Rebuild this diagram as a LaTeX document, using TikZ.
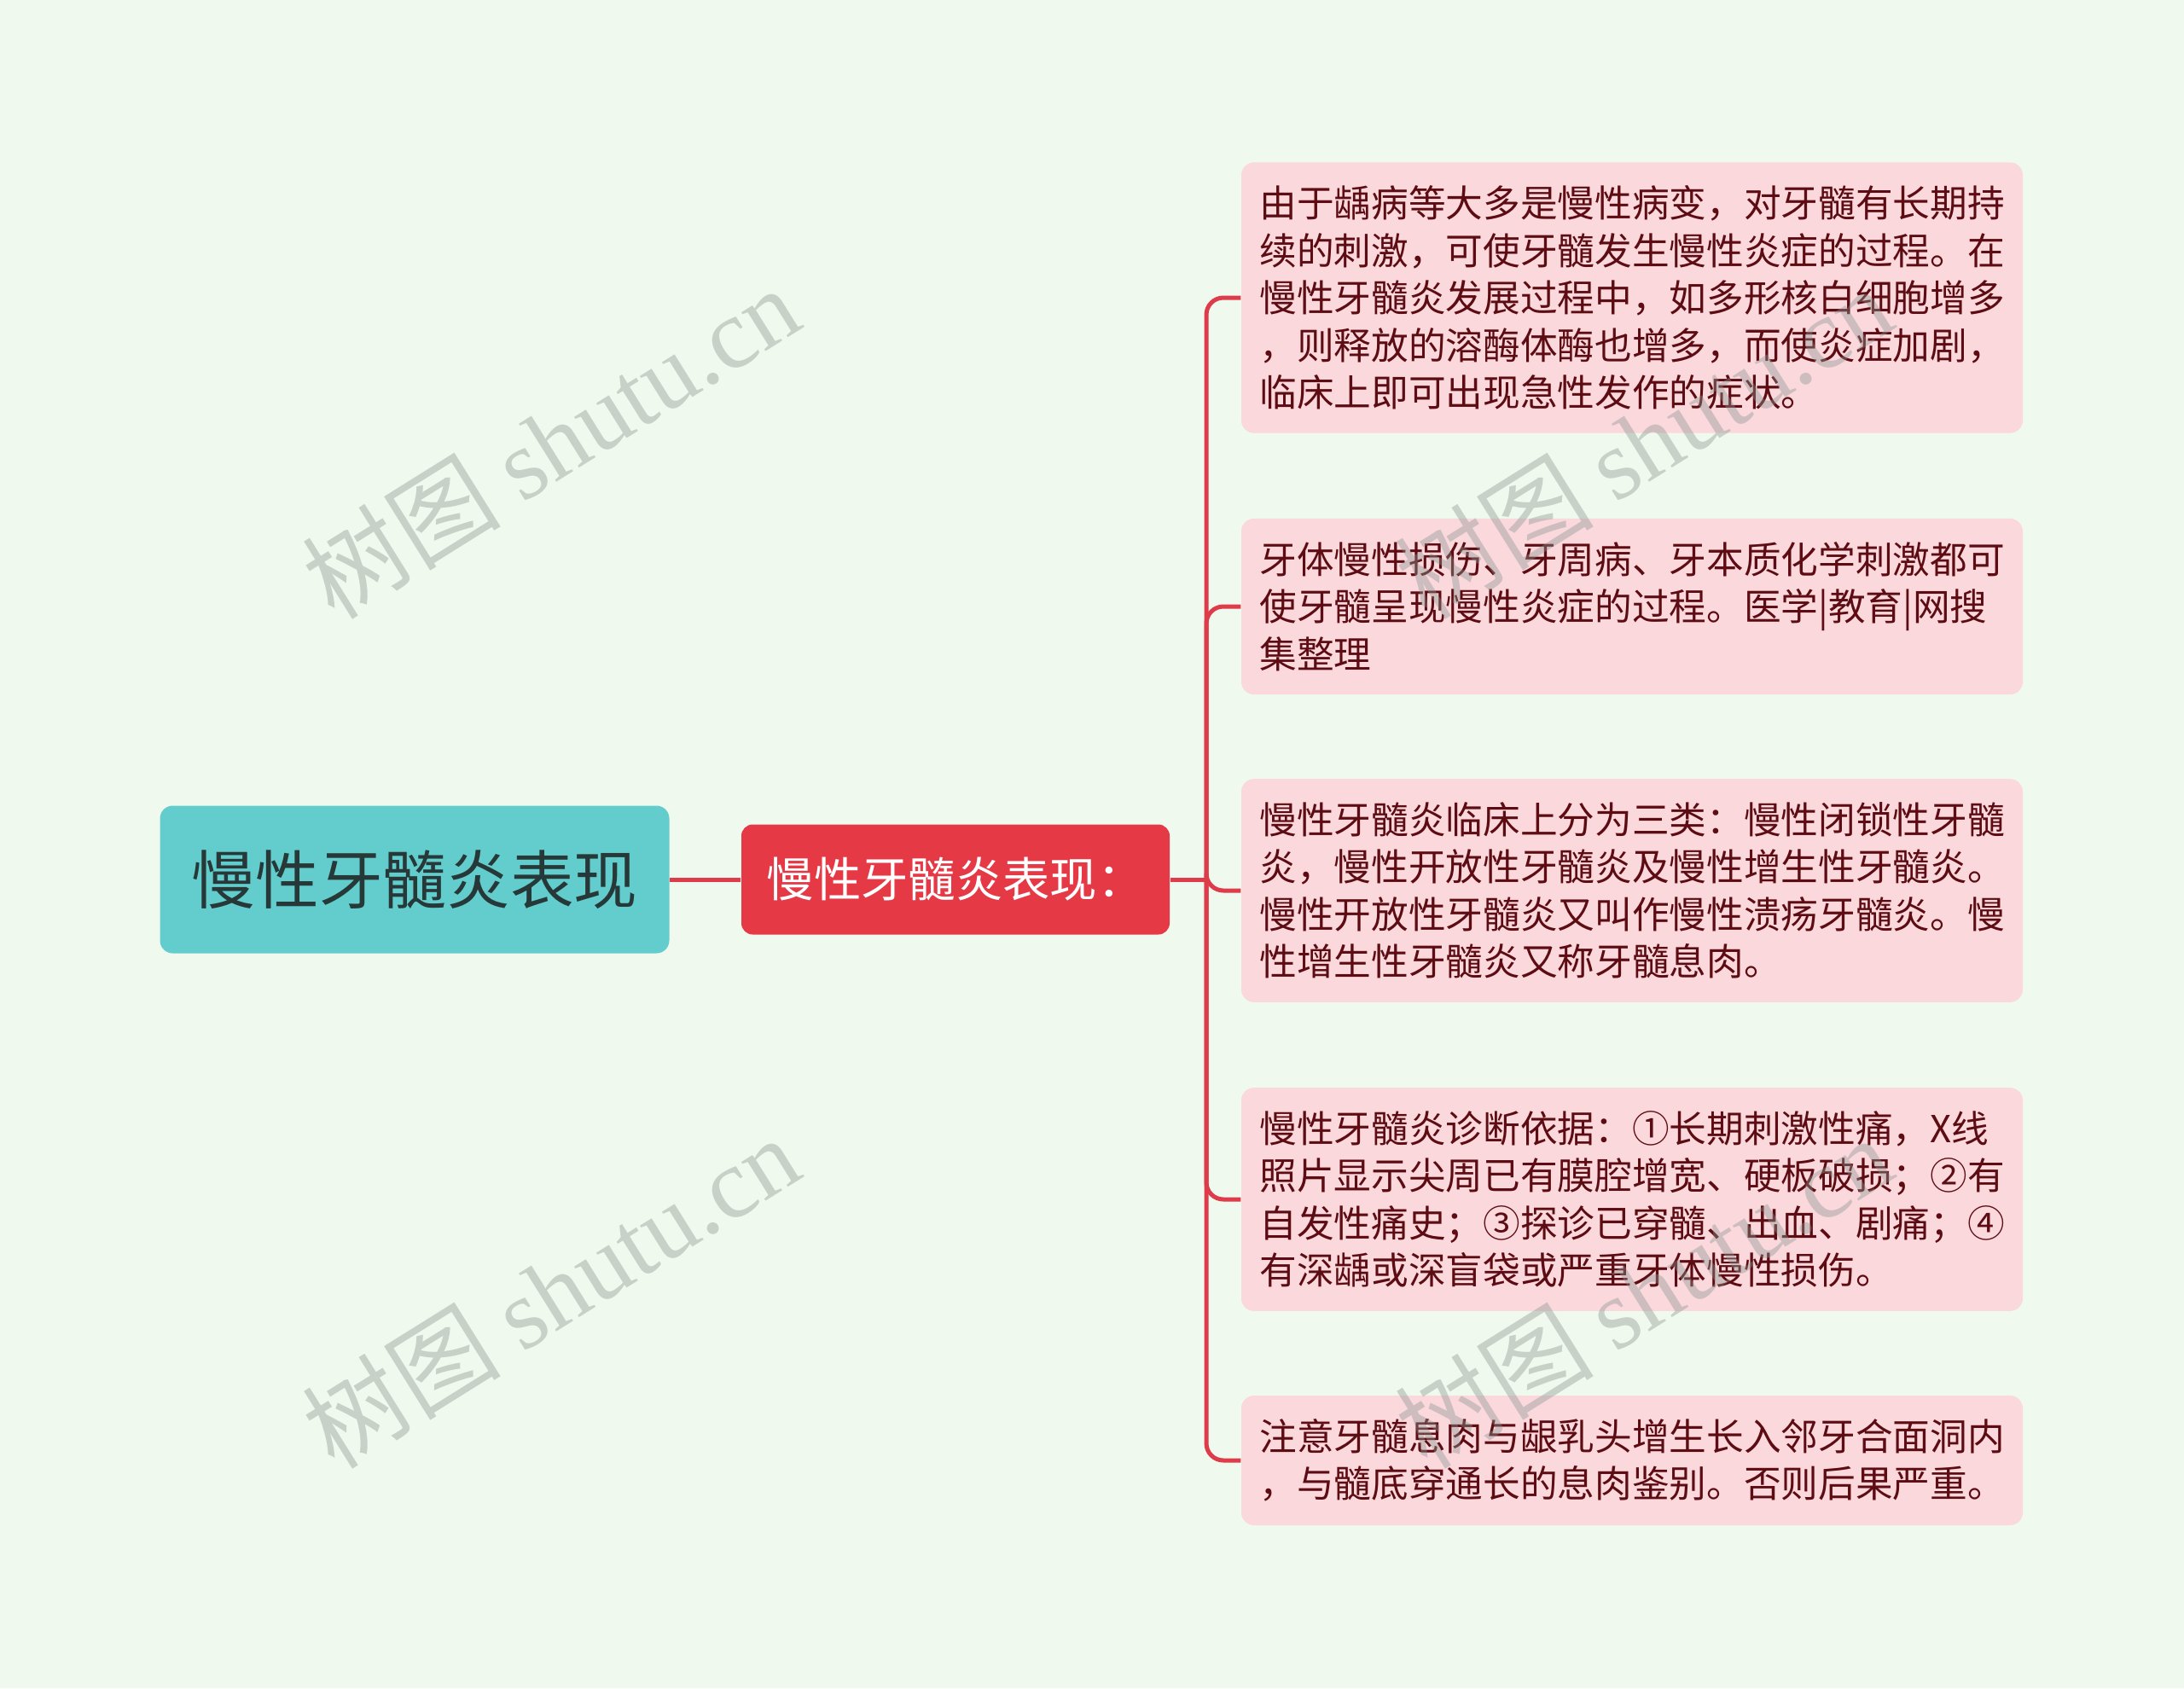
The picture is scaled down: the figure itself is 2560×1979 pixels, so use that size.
\documentclass[tikz,border=0pt]{standalone}
\usepackage{fontspec}
\setmainfont{Noto Sans CJK SC}
\newfontfamily\wmfont{Liberation Serif}
\definecolor{bgcol}{RGB}{240,249,238}
\definecolor{rootcol}{RGB}{99,205,205}
\definecolor{roottext}{RGB}{38,56,56}
\definecolor{maincol}{RGB}{229,57,70}
\definecolor{linecol}{RGB}{222,60,74}
\definecolor{leafcol}{RGB}{250,216,220}
\definecolor{leaftext}{RGB}{92,12,18}
\definecolor{wmcol}{RGB}{140,150,145}
\tikzset{
  leaf/.style={fill=leafcol, text=leaftext, rounded corners=4.5pt, align=left,
    text width=262pt, inner xsep=6.4pt, inner ysep=8.2pt,
    font=\fontsize{13.1pt}{16.65pt}\selectfont},
  wm/.style={text=wmcol, opacity=0.4, rotate=32, font=\fontsize{35pt}{35pt}\selectfont}
}
\begin{document}
\begin{tikzpicture}[x=0.3pt, y=-0.3pt]
  \fill[bgcol] (0,0) rectangle (2560,1979);
  \useasboundingbox (0,0) rectangle (2560,1979);

  \node[fill=rootcol, text=roottext, rounded corners=4.5pt, minimum width=179.1pt,
    minimum height=51.9pt, font=\fontsize{22.4pt}{26pt}\selectfont] (root) at (486,1031) {慢性牙髓炎表现};
  \node[fill=maincol, text=white, rounded corners=4pt, minimum width=150.6pt,
    minimum height=38.7pt, font=\fontsize{16.6pt}{20pt}\selectfont] (main) at (1120,1031) {慢性牙髓炎表现：};

  \begin{scope}[every node/.style={leaf}]
    \node (c1) at (1913,349) {由于龋病等大多是慢性病变，对牙髓有长期持\\续的刺激，可使牙髓发生慢性炎症的过程。在\\慢性牙髓炎发展过程中，如多形核白细胞增多\\，则释放的溶酶体酶也增多，而使炎症加剧，\\临床上即可出现急性发作的症状。};
    \node (c2) at (1913,711) {牙体慢性损伤、牙周病、牙本质化学刺激都可\\使牙髓呈现慢性炎症的过程。医学|教育|网搜\\集整理};
    \node (c3) at (1913,1044) {慢性牙髓炎临床上分为三类：慢性闭锁性牙髓\\炎，慢性开放性牙髓炎及慢性增生性牙髓炎。\\慢性开放性牙髓炎又叫作慢性溃疡牙髓炎。慢\\性增生性牙髓炎又称牙髓息肉。};
    \node (c4) at (1913,1406) {慢性牙髓炎诊断依据：①长期刺激性痛，X线\\照片显示尖周已有膜腔增宽、硬板破损；②有\\自发性痛史；③探诊已穿髓、出血、剧痛；④\\有深龋或深盲袋或严重牙体慢性损伤。};
    \node (c5) at (1913,1712) {注意牙髓息肉与龈乳头增生长入邻牙合面洞内\\，与髓底穿通长的息肉鉴别。否则后果严重。};
  \end{scope}

  \coordinate (fork) at (1414,1031);
  \begin{scope}[draw=linecol, line width=1.5pt]
    \draw (root.east) -- (main.west);
    \draw (main.east) -- (fork);
    \foreach \c in {c1,c2,c3,c4,c5}
      \draw[rounded corners=6pt] (fork) |- (\c.west);
  \end{scope}

  \begin{scope}[every node/.style={wm}]
    \node (wm1) at (645,518) {树图 {\wmfont shutu.cn}};
    \node (wm2) at (645,1514) {树图 {\wmfont shutu.cn}};
    \node (wm3) at (1926,518) {树图 {\wmfont shutu.cn}};
    \node (wm4) at (1926,1514) {树图 {\wmfont shutu.cn}};
  \end{scope}
\end{tikzpicture}
\end{document}
